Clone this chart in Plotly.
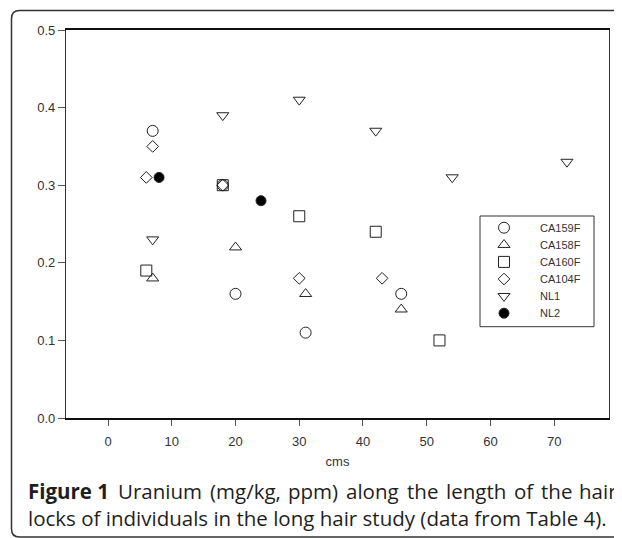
import plotly.graph_objects as go

# ---- data ----
series_names = ["CA159F", "CA158F", "CA160F", "CA104F", "NL1", "NL2"]

ca159f_x = [7, 18, 20, 31, 46]
ca159f_y = [0.37, 0.30, 0.16, 0.11, 0.16]

ca158f_x = [7, 20, 31, 46]
ca158f_y = [0.18, 0.22, 0.16, 0.14]

ca160f_x = [6, 18, 30, 42, 52]
ca160f_y = [0.19, 0.30, 0.26, 0.24, 0.10]

ca104f_x = [7, 6, 18, 30, 43]
ca104f_y = [0.35, 0.31, 0.30, 0.18, 0.18]

nl1_x = [7, 18, 30, 42, 54, 72]
nl1_y = [0.23, 0.39, 0.41, 0.37, 0.31, 0.33]

nl2_x = [8, 24]
nl2_y = [0.31, 0.28]

x_ticks = [0, 10, 20, 30, 40, 50, 60, 70]
y_ticks = [0.0, 0.1, 0.2, 0.3, 0.4, 0.5]

caption_line1_words = ["<b>Figure 1</b>", "Uranium", "(mg/kg,", "ppm)", "along",
                       "the", "length", "of", "the", "hair"]
caption_line2 = "locks of individuals in the long hair study (data from Table 4)."

# ---- layout geometry (screen pixels; page body has an 8px offset) ----
OFF = 8
W, H = 622 - OFF, 538 - OFF
ML, MR, MT, MB = 58, 13, 22, 120
PW, PH = W - ML - MR, H - MT - MB


def sx(x):
    return (x - OFF - ML) / PW


def sy(y):
    return (H - MB - (y - OFF)) / PH


INK = "#222222"
TXT = "#333333"
AX_FONT = "Arial"

fig = go.Figure()

styles = [
    (ca159f_x, ca159f_y, "circle-open", 11),
    (ca158f_x, ca158f_y, "triangle-up-open", 10.5),
    (ca160f_x, ca160f_y, "square-open", 11),
    (ca104f_x, ca104f_y, "diamond-open", 9),
    (nl1_x, nl1_y, "triangle-down-open", 10.5),
    (nl2_x, nl2_y, "circle", 10),
]


def mk(sym, sz):
    return dict(symbol=sym, size=sz, color="#000000" if sym == "circle" else INK,
                line=dict(width=1, color=INK))


for name, (xs, ys, sym, sz) in zip(series_names, styles):
    fig.add_trace(go.Scatter(x=xs, y=ys, mode="markers", name=name,
                             marker=mk(sym, sz), showlegend=False))

# ---- legend drawn in its own small pixel-scaled axes ----
LB_L, LB_R, LB_T, LB_B = 480, 594, 216, 326.7
ROW0, ROW_STEP, SYM_X, TXT_X = 227.7, 17.1, 504, 538

fig.update_layout(
    xaxis=dict(
        range=[-6.6, 78.6], tickvals=x_ticks, ticks="outside", ticklen=6, tickwidth=1,
        tickcolor="#555555", showgrid=False, zeroline=False,
        showline=True, linecolor="#111111", linewidth=2, mirror=True,
        tickfont=dict(family=AX_FONT, size=13, color=TXT), ticklabelstandoff=4,
        title=dict(text="cms", font=dict(family=AX_FONT, size=13, color=TXT), standoff=9),
    ),
    yaxis=dict(
        range=[0, 0.5], tickvals=y_ticks, tickformat=".1f", ticks="outside", ticklen=7,
        tickwidth=1, tickcolor="#555555", showgrid=False, zeroline=False,
        showline=True, linecolor="#333333", linewidth=1.3, mirror=True,
        tickfont=dict(family=AX_FONT, size=13, color=TXT),
    ),
    xaxis2=dict(domain=[sx(LB_L), sx(LB_R)], range=[LB_L, LB_R], anchor="y2",
                visible=False, fixedrange=True),
    yaxis2=dict(domain=[sy(LB_B), sy(LB_T)], range=[LB_B, LB_T], anchor="x2",
                visible=False, fixedrange=True),
)

for i, (name, (xs, ys, sym, sz)) in enumerate(zip(series_names, styles)):
    ry = ROW0 + ROW_STEP * i
    fig.add_trace(go.Scatter(x=[SYM_X], y=[ry], xaxis="x2", yaxis="y2", mode="markers",
                             marker=mk(sym, sz), showlegend=False, hoverinfo="skip"))
    fig.add_annotation(text=name, xref="x2", yref="y2", x=TXT_X, y=ry, xanchor="left",
                       yanchor="middle", showarrow=False,
                       font=dict(family=AX_FONT, size=11, color=TXT))
fig.add_shape(type="rect", xref="paper", yref="paper", x0=sx(LB_L), x1=sx(LB_R),
              y0=sy(LB_B), y1=sy(LB_T), line=dict(color="#333333", width=1))

# ---- rounded frame around figure + caption ----
x0, y0, x1, y1, r = sx(11.5), sy(10.5), sx(700), sy(537), 8
rx, ry_ = r / PW, r / PH
frame = (f"M {x1},{y0} L {x0 + rx},{y0} Q {x0},{y0} {x0},{y0 - ry_} "
         f"L {x0},{y1 + ry_} Q {x0},{y1} {x0 + rx},{y1} L {x1},{y1}")
fig.add_shape(type="path", xref="paper", yref="paper", path=frame,
              line=dict(color="#333333", width=1.5))

# ---- caption (first line justified word by word) ----
CAP_SIZE = 20.5
cap_font = dict(family="Open Sans, sans-serif", size=CAP_SIZE, color="#1e1e1e")
word_left = [28, 117.7, 209.6, 288.3, 346.3, 406.7, 445.7, 513.7, 540.7]
PAD = 2
for wd, xl in zip(caption_line1_words[:-1], word_left):
    fig.add_annotation(text=wd, xref="paper", yref="paper", x=sx(xl - PAD), y=sy(491),
                       xanchor="left", yanchor="middle", showarrow=False, font=cap_font)
fig.add_annotation(text=caption_line1_words[-1], xref="paper", yref="paper",
                   x=sx(617 + PAD), y=sy(491), xanchor="right", yanchor="middle",
                   showarrow=False, font=cap_font)
fig.add_annotation(text=caption_line2, xref="paper", yref="paper", x=sx(28 - PAD),
                   y=sy(518), xanchor="left", yanchor="middle", showarrow=False,
                   font=cap_font)

fig.update_layout(
    width=W, height=H, margin=dict(l=ML, r=MR, t=MT, b=MB, autoexpand=False),
    paper_bgcolor="white", plot_bgcolor="white", showlegend=False,
)

fig.write_html("out.html")
